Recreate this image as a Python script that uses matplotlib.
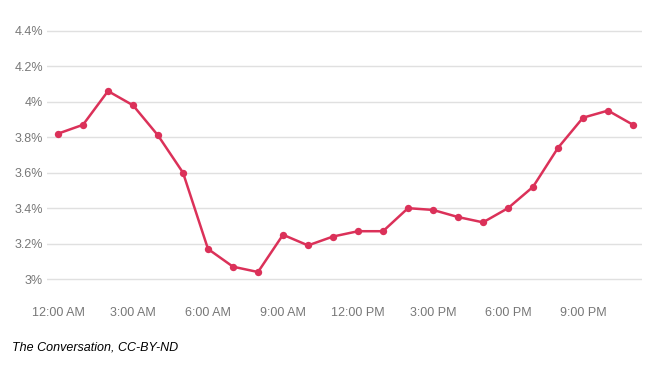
import matplotlib
matplotlib.use("Agg")
import matplotlib.pyplot as plt

hours = list(range(24))
values = [3.82, 3.87, 4.06, 3.98, 3.81, 3.60, 3.17, 3.07, 3.04, 3.25, 3.19, 3.24,
          3.27, 3.27, 3.40, 3.39, 3.35, 3.32, 3.40, 3.52, 3.74, 3.91, 3.95, 3.87]
xtick_pos = [0, 3, 6, 9, 12, 15, 18, 21]
xtick_labels = ["12:00 AM", "3:00 AM", "6:00 AM", "9:00 AM",
                "12:00 PM", "3:00 PM", "6:00 PM", "9:00 PM"]
ytick_vals = [3.0, 3.2, 3.4, 3.6, 3.8, 4.0, 4.2, 4.4]
ytick_labels = ["3%", "3.2%", "3.4%", "3.6%", "3.8%", "4%", "4.2%", "4.4%"]

plt.rcParams['font.family'] = ['Liberation Sans', 'DejaVu Sans']

fig = plt.figure(figsize=(6.53, 3.65), dpi=100)
ax = fig.add_axes([47/653, 0.211, 595/653, 0.729])

ax.plot(hours, values, color="#db3159", linewidth=1.8, marker="o",
        markersize=5.3, markeredgewidth=0, zorder=3)

ax.set_xlim(-0.44, 23.36)
ax.set_ylim(2.95, 4.45)
ax.set_yticks(ytick_vals)
ax.set_yticklabels(ytick_labels)
ax.set_xticks(xtick_pos)
ax.set_xticklabels(xtick_labels)
ax.tick_params(axis="both", length=0, colors="#777777", labelsize=9)
ax.tick_params(axis="y", pad=3)
ax.tick_params(axis="x", pad=14)
ax.grid(axis="y", color="#e0e0e0", linewidth=1)
ax.set_axisbelow(True)
for s in ax.spines.values():
    s.set_visible(False)

fig.text(12/653, 1 - 348/365, "The Conversation, CC-BY-ND", fontsize=9,
         style="italic", color="#000000", va="center", ha="left")

fig.savefig("out.png", dpi=100)
